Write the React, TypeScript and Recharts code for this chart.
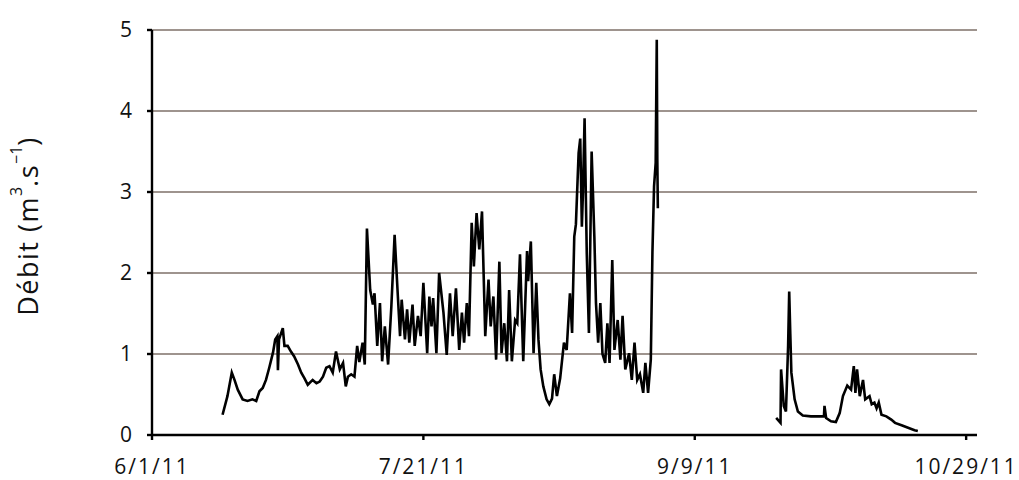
import React from "react";
import {
  LineChart,
  Line,
  XAxis,
  YAxis,
  CartesianGrid,
} from "recharts";

// ── Data: days since 6/1/11 and discharge (m3/s) ───────────────────
const days: number[] = [
  13.0, 13.9, 14.7, 15.2, 15.8, 16.7, 17.6, 18.5, 19.2, 19.8, 20.4, 21.0,
  21.6, 22.3, 22.7, 23.1, 23.2, 23.4, 24.1, 24.4, 25.0, 25.6, 26.2, 26.9,
  27.5, 28.1, 28.7, 29.6, 30.3, 30.9, 31.5, 32.1, 32.7, 33.3, 33.9, 34.6,
  35.2, 35.7, 36.1, 36.7, 37.3, 37.8, 38.2, 38.8, 39.2, 39.6, 40.2, 40.7,
  41.0, 41.5, 42.0, 42.4, 42.9, 43.5, 44.1, 44.7, 45.3, 45.7, 46.0, 46.6,
  47.0, 47.4, 48.0, 48.4, 49.0, 49.5, 50.0, 50.7, 51.1, 51.5, 51.8, 52.4,
  52.9, 53.7, 54.3, 54.9, 55.4, 56.0, 56.6, 57.1, 57.5, 58.0, 58.4, 58.9,
  59.3, 59.8, 60.3, 60.8, 61.4, 62.0, 62.4, 62.9, 63.4, 64.0, 64.4, 64.9,
  65.4, 65.8, 66.3, 66.9, 67.3, 67.8, 68.4, 69.1, 69.3, 69.8, 70.3, 70.8,
  71.2, 71.6, 72.1, 72.7, 73.2, 73.7, 74.1, 74.6, 75.2, 75.9, 76.4, 77.0,
  77.4, 77.8, 78.1, 78.6, 78.9, 79.2, 79.4, 79.7, 80.1, 80.5, 81.0, 81.5,
  81.8, 82.2, 82.6, 83.0, 83.5, 83.9, 84.3, 84.8, 85.2, 85.8, 86.3, 86.7,
  87.2, 87.9, 88.4, 88.9, 89.4, 89.9, 90.5, 90.9, 91.4, 91.9, 92.2, 92.5,
  92.8, 93.0, 93.1, 93.2,
  // gap in the record
  100.0,
  115.0, 115.8, 115.9, 116.4, 116.8, 117.2, 117.4, 117.6, 117.8, 118.4,
  119.0, 119.9, 121.4, 123.8, 123.9, 124.2, 125.1, 126.0, 126.7, 127.3,
  128.1, 128.8, 129.3, 129.6, 129.9, 130.4, 131.0, 131.4, 132.2, 132.6,
  133.1, 133.5, 133.9, 134.4, 135.3, 136.2, 136.9, 138.1, 139.3, 140.5,
  141.1,
];

const flow: (number | null)[] = [
  0.25, 0.48, 0.77, 0.68, 0.56, 0.44, 0.42, 0.44, 0.42, 0.54, 0.58, 0.68,
  0.83, 1.02, 1.18, 1.22, 0.8, 1.18, 1.32, 1.1, 1.1, 1.03, 0.97, 0.87,
  0.77, 0.7, 0.62, 0.68, 0.64, 0.66, 0.72, 0.83, 0.85, 0.77, 1.03, 0.81,
  0.89, 0.6, 0.72, 0.75, 0.72, 1.1, 0.9, 1.14, 0.87, 2.55, 1.79, 1.61,
  1.75, 1.1, 1.63, 0.91, 1.34, 0.87, 1.59, 2.47, 1.71, 1.22, 1.67, 1.18,
  1.55, 1.14, 1.61, 1.1, 1.47, 1.22, 1.88, 1.01, 1.71, 1.34, 1.69, 1.01,
  2.0, 1.51, 0.99, 1.75, 1.22, 1.81, 1.05, 1.51, 1.14, 1.63, 1.22, 2.62,
  2.08, 2.74, 2.29, 2.76, 1.22, 1.92, 1.34, 1.71, 0.93, 2.14, 1.01, 1.38,
  0.91, 1.79, 0.91, 1.42, 1.38, 2.23, 0.91, 2.27, 1.9, 2.39, 1.01, 1.88,
  1.18, 0.81, 0.6, 0.44, 0.38, 0.45, 0.75, 0.48, 0.7, 1.14, 1.05, 1.75,
  1.26, 2.45, 2.6, 3.48, 3.66, 2.57, 3.0, 3.91, 2.25, 1.26, 3.5, 2.45,
  1.63, 1.14, 1.63, 1.0, 0.89, 1.38, 0.89, 2.16, 1.05, 1.42, 0.93, 1.47,
  0.81, 1.01, 0.68, 1.14, 0.68, 0.75, 0.52, 0.89, 0.52, 0.93, 2.25, 3.07,
  3.36, 4.88, 3.4, 2.8,
  null,
  0.21, 0.15, 0.81, 0.36, 0.29, 1.1, 1.77, 1.25, 0.77, 0.44,
  0.29, 0.24, 0.23, 0.23, 0.36, 0.21, 0.17, 0.16, 0.27, 0.48,
  0.61, 0.56, 0.85, 0.52, 0.81, 0.48, 0.68, 0.44, 0.48, 0.38,
  0.4, 0.33, 0.4, 0.25, 0.23, 0.19, 0.15, 0.12, 0.09, 0.06,
  0.05,
];

const xTicks = [0, 50, 100, 150];
const xTickLabels = ["6/1/11", "7/21/11", "9/9/11", "10/29/11"];
const yTicks = [0, 1, 2, 3, 4, 5];

const data = days.map((d, i) => ({ day: d, flow: flow[i] }));

const FONT = "'Open Sans', 'Noto Sans', sans-serif";

const AxisTitle = () => (
  <text
    x={27}
    y={226}
    transform="rotate(-90 27 226)"
    textAnchor="middle"
    dominantBaseline="central"
    fontFamily={FONT}
    fontSize={27}
    letterSpacing={1.5}
    fill="#111"
  >
    Débit (m
    <tspan fontSize={16} dy={-11} letterSpacing={0}>3</tspan>
    <tspan dy={11}>.s</tspan>
    <tspan fontSize={16} dy={-11} letterSpacing={0}>−1</tspan>
    <tspan dy={11}>)</tspan>
  </text>
);

export default function App() {
  return (
    <div style={{ position: "absolute", left: 0, top: 0, background: "#fff" }}>
      <LineChart
        width={1019}
        height={480}
        data={data}
        margin={{ top: 30, right: 42, bottom: 0, left: 0 }}
      >
        <CartesianGrid
          vertical={false}
          stroke="#9e948e"
          strokeWidth={2}
        />
        <XAxis
          dataKey="day"
          type="number"
          domain={[0, 152]}
          ticks={xTicks}
          tickFormatter={(v: number) => xTickLabels[xTicks.indexOf(v)] ?? ""}
          height={45}
          stroke="#000"
          strokeWidth={2.4}
          tickSize={5}
          tickMargin={19}
          tick={{ fill: "#111", fontSize: 21, fontFamily: FONT, letterSpacing: 2 }}
          interval={0}
          allowDataOverflow
        />
        <YAxis
          type="number"
          domain={[0, 5]}
          ticks={yTicks}
          width={152}
          stroke="#000"
          strokeWidth={2.4}
          tickSize={5}
          tickMargin={15}
          tick={{ fill: "#111", fontSize: 21, fontFamily: FONT }}
          interval={0}
          label={AxisTitle}
        />
        <Line
          type="linear"
          dataKey="flow"
          stroke="#000"
          strokeWidth={2.6}
          dot={false}
          connectNulls={false}
          isAnimationActive={false}
        />
      </LineChart>
    </div>
  );
}
